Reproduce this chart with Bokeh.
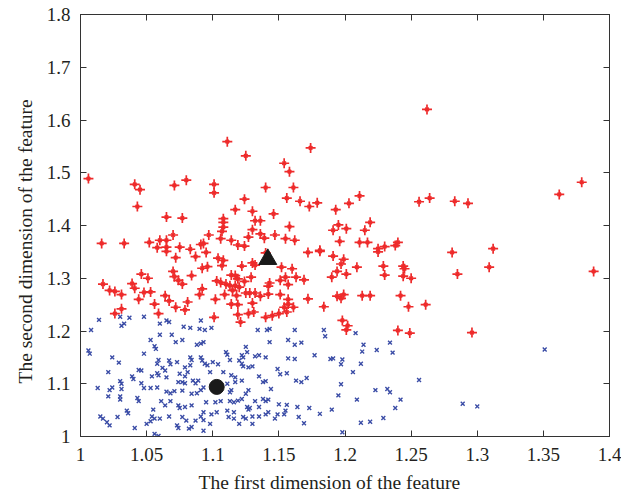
from bokeh.plotting import figure
from bokeh.models import Range1d, FixedTicker, LinearAxis, Title
from bokeh.embed import file_html
from bokeh.resources import INLINE

# ---------------- data ----------------
red_x = [1.006, 1.041, 1.045, 1.071, 1.080, 1.101, 1.101, 1.111, 1.125, 1.124, 1.140, 1.154, 1.158, 1.161, 1.156, 1.174, 1.211, 1.166, 1.179, 1.203,
         1.043, 1.065, 1.077, 1.016, 1.033, 1.052, 1.060, 1.065, 1.058, 1.065, 1.065, 1.070, 1.075, 1.083, 1.091, 1.087, 1.072, 1.092, 1.070, 1.071,
         1.074, 1.077, 1.084, 1.046, 1.051, 1.039, 1.041, 1.017, 1.022, 1.026, 1.031, 1.048, 1.053, 1.044, 1.064, 1.067, 1.056, 1.072, 1.081, 1.079,
         1.090, 1.092, 1.031, 1.026, 1.059,
         1.173, 1.117, 1.130, 1.146, 1.108, 1.108, 1.132, 1.136, 1.108, 1.107, 1.130, 1.136, 1.139, 1.127, 1.147, 1.158, 1.097, 1.106, 1.114, 1.119,
         1.124, 1.093, 1.095, 1.155, 1.162, 1.172, 1.181, 1.140, 1.104, 1.108, 1.107, 1.130, 1.132, 1.122, 1.096, 1.152, 1.160, 1.163, 1.169, 1.155,
         1.151, 1.157, 1.143, 1.142, 1.114, 1.117, 1.119, 1.129, 1.124, 1.106, 1.110, 1.113, 1.117, 1.120, 1.115, 1.109, 1.118, 1.125, 1.128, 1.132,
         1.136, 1.142, 1.102, 1.114, 1.119, 1.130, 1.151, 1.157, 1.157, 1.154, 1.161, 1.172, 1.156, 1.150, 1.145, 1.140, 1.131, 1.127, 1.119, 1.101,
         1.184, 1.103,
         1.256, 1.264, 1.193, 1.195, 1.191, 1.201, 1.219, 1.215, 1.196, 1.211, 1.217, 1.225, 1.225, 1.230, 1.240, 1.238, 1.181, 1.191, 1.199, 1.197,
         1.209, 1.194, 1.201, 1.190, 1.229, 1.230, 1.244, 1.245, 1.244, 1.250, 1.194, 1.197, 1.199, 1.213, 1.219, 1.242, 1.248, 1.261, 1.198,
         1.202, 1.201, 1.240, 1.249,
         1.262, 1.283, 1.293, 1.362, 1.379, 1.281, 1.312, 1.285, 1.309, 1.388, 1.296, 1.121]
red_y = [1.489, 1.478, 1.468, 1.476, 1.486, 1.478, 1.462, 1.559, 1.532, 1.450, 1.472, 1.518, 1.502, 1.472, 1.452, 1.547, 1.456, 1.446, 1.443, 1.442,
         1.436, 1.416, 1.414, 1.366, 1.366, 1.368, 1.372, 1.372, 1.358, 1.359, 1.351, 1.382, 1.359, 1.355, 1.364, 1.341, 1.339, 1.319, 1.313, 1.303,
         1.296, 1.289, 1.305, 1.308, 1.300, 1.290, 1.281, 1.289, 1.277, 1.275, 1.269, 1.273, 1.274, 1.260, 1.267, 1.257, 1.251, 1.245, 1.255, 1.240,
         1.269, 1.280, 1.242, 1.233, 1.233,
         1.436, 1.430, 1.427, 1.422, 1.413, 1.406, 1.409, 1.409, 1.397, 1.389, 1.392, 1.384, 1.376, 1.378, 1.382, 1.398, 1.382, 1.375, 1.372, 1.363,
         1.361, 1.366, 1.349, 1.375, 1.372, 1.349, 1.353, 1.348, 1.338, 1.334, 1.324, 1.329, 1.325, 1.323, 1.322, 1.321, 1.318, 1.302, 1.297, 1.302,
         1.296, 1.288, 1.291, 1.285, 1.306, 1.305, 1.299, 1.302, 1.294, 1.292, 1.289, 1.286, 1.286, 1.283, 1.277, 1.269, 1.267, 1.272, 1.272, 1.272,
         1.266, 1.270, 1.260, 1.251, 1.250, 1.253, 1.269, 1.260, 1.251, 1.245, 1.245, 1.261, 1.236, 1.233, 1.229, 1.226, 1.236, 1.233, 1.231, 1.226,
         1.246, 1.295,
         1.445, 1.452, 1.430, 1.401, 1.391, 1.394, 1.406, 1.391, 1.370, 1.368, 1.368, 1.356, 1.350, 1.360, 1.368, 1.362, 1.351, 1.342, 1.336, 1.327,
         1.321, 1.313, 1.308, 1.302, 1.323, 1.306, 1.323, 1.318, 1.304, 1.300, 1.266, 1.262, 1.269, 1.267, 1.267, 1.267, 1.246, 1.250, 1.220,
         1.210, 1.202, 1.201, 1.196,
         1.620, 1.446, 1.442, 1.459, 1.482, 1.349, 1.356, 1.308, 1.321, 1.313, 1.197, 1.217]

blue_x = [1.014, 1.031, 1.033, 1.030, 1.037, 1.008, 1.060, 1.065, 1.067, 1.048, 1.078, 1.083, 1.090, 1.060, 1.069, 1.053, 1.072, 1.077, 1.088, 1.056,
          1.057, 1.006, 1.007, 1.024, 1.048, 1.029, 1.059, 1.058, 1.067, 1.068, 1.062, 1.073, 1.083, 1.084, 1.083, 1.079, 1.091, 1.092, 1.044, 1.046,
          1.039, 1.040, 1.021, 1.058, 1.059, 1.064, 1.054, 1.065, 1.075, 1.079, 1.081, 1.085, 1.087, 1.089, 1.074, 1.077, 1.079, 1.030, 1.031, 1.013,
          1.022, 1.024, 1.031, 1.046, 1.048, 1.053, 1.058, 1.065, 1.068, 1.071, 1.077, 1.084, 1.088, 1.021, 1.030, 1.030, 1.043, 1.044, 1.061, 1.068,
          1.074, 1.075, 1.079, 1.084, 1.035, 1.036, 1.055, 1.064, 1.015, 1.017, 1.020, 1.022, 1.028, 1.041, 1.050, 1.053, 1.054, 1.056, 1.060, 1.067,
          1.073, 1.074, 1.077, 1.080, 1.082, 1.084, 1.087, 1.091, 1.056, 1.059, 1.093,
          1.091, 1.094, 1.099, 1.091, 1.093, 1.134, 1.141, 1.143, 1.162, 1.143, 1.157, 1.162, 1.167, 1.125, 1.110, 1.111, 1.113, 1.120, 1.122, 1.123,
          1.126, 1.132, 1.135, 1.140, 1.157, 1.162, 1.177, 1.094, 1.096, 1.100, 1.104, 1.122, 1.123, 1.127, 1.130, 1.098, 1.108, 1.114, 1.117, 1.149,
          1.151, 1.156, 1.135, 1.138, 1.140, 1.122, 1.117, 1.111, 1.163, 1.167, 1.171, 1.144, 1.091, 1.093, 1.114, 1.113, 1.127, 1.125, 1.095, 1.102,
          1.106, 1.113, 1.116, 1.119, 1.122, 1.132, 1.138, 1.140, 1.142, 1.150, 1.156, 1.126, 1.127, 1.128, 1.135, 1.164, 1.173, 1.093, 1.099, 1.103,
          1.111, 1.116, 1.112, 1.116, 1.123, 1.125, 1.130, 1.135, 1.140, 1.142, 1.149, 1.147, 1.154, 1.155, 1.165, 1.169, 1.093, 1.098, 1.120, 1.130,
          1.184, 1.185, 1.208, 1.214, 1.213, 1.224, 1.234, 1.236, 1.189, 1.191, 1.198, 1.197, 1.212, 1.206, 1.256, 1.197, 1.195, 1.223, 1.232, 1.234,
          1.209, 1.242, 1.190, 1.181, 1.238, 1.229, 1.212, 1.219, 1.198,
          1.289, 1.300, 1.351]
blue_y = [1.221, 1.210, 1.214, 1.227, 1.225, 1.202, 1.214, 1.220, 1.217, 1.227, 1.208, 1.206, 1.204, 1.193, 1.193, 1.183, 1.179, 1.183, 1.174, 1.171,
          1.166, 1.163, 1.157, 1.150, 1.157, 1.140, 1.145, 1.138, 1.144, 1.137, 1.130, 1.141, 1.150, 1.145, 1.135, 1.131, 1.150, 1.144, 1.126, 1.125,
          1.114, 1.109, 1.122, 1.120, 1.116, 1.125, 1.114, 1.112, 1.119, 1.114, 1.122, 1.106, 1.101, 1.106, 1.103, 1.103, 1.101, 1.105, 1.100, 1.092,
          1.088, 1.093, 1.090, 1.101, 1.092, 1.092, 1.093, 1.085, 1.082, 1.086, 1.087, 1.081, 1.082, 1.076, 1.076, 1.070, 1.073, 1.067, 1.067, 1.067,
          1.059, 1.054, 1.056, 1.059, 1.049, 1.044, 1.051, 1.059, 1.038, 1.034, 1.027, 1.021, 1.037, 1.016, 1.024, 1.029, 1.038, 1.034, 1.034, 1.038,
          1.021, 1.016, 1.037, 1.030, 1.015, 1.018, 1.030, 1.038, 1.005, 1.001, 1.011,
          1.220, 1.202, 1.206, 1.176, 1.179, 1.202, 1.202, 1.204, 1.202, 1.179, 1.183, 1.174, 1.178, 1.170, 1.160, 1.155, 1.145, 1.144, 1.154, 1.150,
          1.160, 1.152, 1.154, 1.150, 1.148, 1.147, 1.154, 1.138, 1.135, 1.141, 1.137, 1.138, 1.133, 1.131, 1.133, 1.122, 1.122, 1.116, 1.112, 1.128,
          1.118, 1.120, 1.114, 1.103, 1.105, 1.106, 1.103, 1.100, 1.106, 1.103, 1.111, 1.090, 1.088, 1.093, 1.088, 1.084, 1.088, 1.081, 1.065, 1.065,
          1.067, 1.067, 1.065, 1.068, 1.071, 1.067, 1.071, 1.067, 1.070, 1.061, 1.060, 1.056, 1.051, 1.054, 1.056, 1.056, 1.054, 1.046, 1.042, 1.046,
          1.049, 1.046, 1.037, 1.034, 1.037, 1.034, 1.038, 1.038, 1.042, 1.046, 1.042, 1.034, 1.042, 1.049, 1.037, 1.025, 1.031, 1.024, 1.024, 1.024,
          1.202, 1.190, 1.196, 1.174, 1.161, 1.164, 1.178, 1.159, 1.147, 1.148, 1.146, 1.137, 1.138, 1.122, 1.107, 1.099, 1.078, 1.088, 1.090, 1.084,
          1.070, 1.070, 1.051, 1.043, 1.054, 1.035, 1.026, 1.028, 1.008,
          1.062, 1.057, 1.165]

center_red = ([1.1416], [1.336])
center_blue = ([1.103], [1.094])

x_ticks = [1.0, 1.05, 1.1, 1.15, 1.2, 1.25, 1.3, 1.35, 1.4]
x_labels = ["1", "1.05", "1.1", "1.15", "1.2", "1.25", "1.3", "1.35", "1.4"]
y_ticks = [1.0, 1.1, 1.2, 1.3, 1.4, 1.5, 1.6, 1.7, 1.8]
y_labels = ["1", "1.1", "1.2", "1.3", "1.4", "1.5", "1.6", "1.7", "1.8"]
x_title = "The first dimension of the feature"
y_title = "The second dimension of the feature"

FONT = "Liberation Serif"
AX = "#333333"
TXT = "#231f20"

p = figure(width=621, height=500, x_range=Range1d(1.0, 1.4), y_range=Range1d(1.0, 1.8),
           output_backend="svg", toolbar_location=None,
           min_border_left=80, min_border_right=12, min_border_top=14, min_border_bottom=64)
p.grid.visible = False
p.outline_line_color = AX
p.outline_line_width = 1
p.background_fill_color = "white"
p.border_fill_color = "white"

def style(ax, ticks, labels):
    ax.ticker = FixedTicker(ticks=ticks)
    ax.major_tick_in = 6
    ax.major_tick_out = 0
    ax.minor_tick_line_color = None
    ax.axis_line_color = AX
    ax.major_tick_line_color = AX
    ax.major_label_text_font = FONT
    ax.major_label_text_color = TXT
    ax.major_label_overrides = {t: l for t, l in zip(ticks, labels)}
    ax.major_label_text_font_size = "19px"
    ax.major_label_standoff = 10

style(p.xaxis[0], x_ticks, x_labels)
style(p.yaxis[0], y_ticks, y_labels)
p.xaxis[0].major_label_standoff = 11

top = LinearAxis()
style(top, x_ticks, ["" for _ in x_ticks])
top.major_label_standoff = 0
p.add_layout(top, "above")
right = LinearAxis()
style(right, y_ticks, ["" for _ in y_ticks])
right.major_label_standoff = 0
p.add_layout(right, "right")

# axis titles, shifted like the reference's
p.add_layout(Title(text=x_title, align="left", offset=118, text_font=FONT,
                   text_font_size="19.5px", text_font_style="normal", text_color=TXT,
                   standoff=13), "below")
p.add_layout(Title(text=y_title, align="left", offset=53, text_font=FONT,
                   text_font_size="19.5px", text_font_style="normal", text_color=TXT,
                   standoff=15), "left")

# blue cluster
p.scatter(blue_x, blue_y, marker="x", size=5.5, line_color="#3a4ca6", line_width=1.4)
# red cluster (star-like asterisk)
p.scatter(red_x, red_y, marker="cross", size=10, line_color="#ee2b2b", line_width=1.7)
p.scatter(red_x, red_y, marker="x", size=5, line_color="#ee2b2b", line_width=1.7)
# centers
p.scatter(center_red[0], center_red[1], marker="triangle", size=18, fill_color="#1a1a1a", line_color="#1a1a1a")
p.scatter(center_blue[0], center_blue[1], marker="circle", size=15, fill_color="#1a1a1a", line_color="#1a1a1a")

open("out.html", "w").write(file_html(p, INLINE))
